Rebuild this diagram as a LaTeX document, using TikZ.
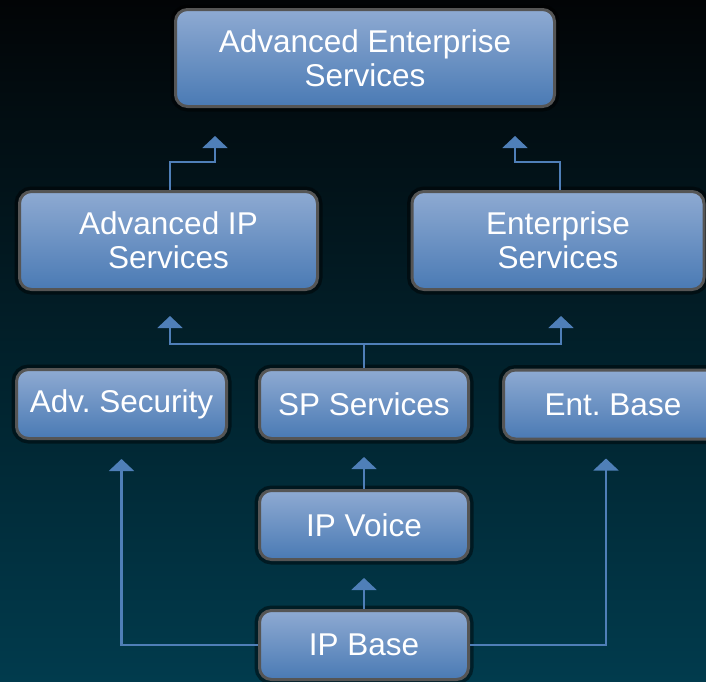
\documentclass[tikz,border=0pt]{standalone}
\usepackage{fontspec}
\setmainfont{Liberation Sans}
\usetikzlibrary{arrows.meta}
\definecolor{bgtop}{RGB}{2,4,6}
\definecolor{bgbottom}{RGB}{1,59,77}
\definecolor{boxtop}{RGB}{142,170,210}
\definecolor{boxbottom}{RGB}{74,122,180}
\definecolor{boxline}{RGB}{85,85,85}
\definecolor{linkblue}{RGB}{79,127,184}
\frenchspacing
\begin{document}
\begin{tikzpicture}[x=1pt, y=-1pt,
    main node/.style={rectangle, rounded corners=12pt, draw=boxline, line width=3pt,
      top color=boxtop, bottom color=boxbottom, text=white, inner sep=0pt, align=center,
      preaction={draw=black, line width=10pt, opacity=0.45}},
    link/.style={draw=linkblue, line width=2.2pt, -{Triangle[width=25pt,length=12pt]}}]
    \tikzstyle{every node}=[font=\fontsize{31.5}{34}\selectfont]

    \useasboundingbox (0,0) rectangle (706,681);
    \clip (0,0) rectangle (706,681);
    \shade[top color=bgtop, bottom color=bgbottom] (0,0) rectangle (706,681);

      \node[main node, minimum width=379pt, minimum height=97pt] (1) at (365,58) {Advanced Enterprise\\Services};
      \node[main node, minimum width=298pt, minimum height=98pt] (2) at (168.5,240.5) {Advanced IP\\Services};
      \node[main node, minimum width=292pt, minimum height=98pt] (3) at (558,240.5) {Enterprise\\Services};
      \node[main node, minimum width=210pt, minimum height=69pt] (4) at (121.5,404) {Adv. Security};
      \node[main node, minimum width=209pt, minimum height=69pt] (5) at (364,404) {SP Services};
      \node[main node, minimum width=219pt, minimum height=69pt] (6) at (613,404.5) {Ent. Base};
      \node[main node, minimum width=209pt, minimum height=69pt] (7) at (364,525) {IP Voice};
      \node[main node, minimum width=209pt, minimum height=69pt] (8) at (364,645) {IP Base};

      \coordinate (j) at (364,344);

      \draw[link, shorten >=17pt] (8) -- (7);
      \draw[link, shorten >=17pt] (7) -- (5);
      \draw[link, shorten >=19pt] (8.west) -| (4.south);
      \draw[link, shorten >=18pt] (8.east) -| ([xshift=-7pt]6.south);
      \draw[link, shorten >=25pt] (5.north) -- (j) -| ([xshift=1.5pt]2.south);
      \draw[link, shorten >=25pt] (j) -| ([xshift=3pt]3.south);
      \draw[link, shorten >=28pt] ([xshift=1.5pt]2.north) -- ++(0,-28) -| ([xshift=-150pt]1.south);
      \draw[link, shorten >=28pt] ([xshift=2pt]3.north) -- ++(0,-28) -| ([xshift=150pt]1.south);

\end{tikzpicture}
\end{document}
